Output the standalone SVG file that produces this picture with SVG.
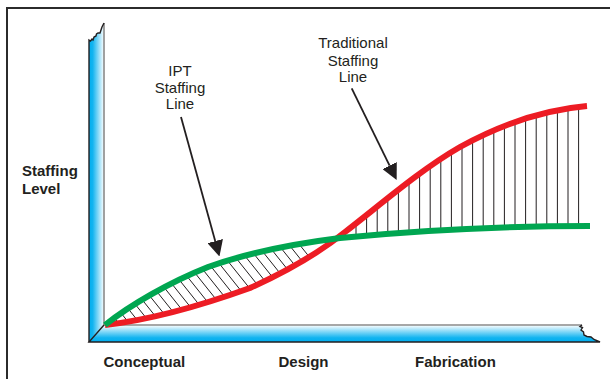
<svg xmlns="http://www.w3.org/2000/svg" width="610" height="379" viewBox="0 0 610 379">
<style>
.frame{fill:none;stroke:#2b2b2b;stroke-width:2}
.edge-dark{fill:none;stroke:#231F20;stroke-width:1.4}
.edge-gray{fill:none;stroke:#8a8a8a;stroke-width:1.6}
.hatch{fill:none;stroke:#231F20;stroke-width:1}
.curve{fill:none;stroke-width:6}
.lbl{font-family:"Liberation Sans",Arial,sans-serif;font-size:15px;fill:#231F20}
.bold{font-weight:bold}
.arrow{fill:none;stroke:#231F20;stroke-width:1.8}
</style>
<defs>
<linearGradient id="gv" x1="89" y1="0" x2="104" y2="0" gradientUnits="userSpaceOnUse">
<stop offset="0" stop-color="#00AEEF"/><stop offset="0.25" stop-color="#12b4f0"/><stop offset="1" stop-color="#ffffff"/>
</linearGradient>
<linearGradient id="gh" x1="0" y1="325" x2="0" y2="342" gradientUnits="userSpaceOnUse">
<stop offset="0" stop-color="#ffffff"/><stop offset="0.75" stop-color="#12b4f0"/><stop offset="1" stop-color="#00AEEF"/>
</linearGradient>
<clipPath id="belowGreen"><path d="M105,325 C130,305 170,282 208,267 C250,252 300,243 340,238 C420,230 500,226 590,226 L590,400 L105,400 Z"/></clipPath>
<clipPath id="aboveRed"><path d="M105,325 C150,320 200,306 250,288 C290,270 320,252 345,232 C380,205 420,170 460,147 C500,125 540,110 587,106 L587,0 L105,0 Z"/></clipPath>
<clipPath id="belowRed"><path d="M105,325 C150,320 200,306 250,288 C290,270 320,252 345,232 C380,205 420,170 460,147 C500,125 540,110 587,106 L587,400 L105,400 Z"/></clipPath>
<clipPath id="aboveGreen"><path d="M105,325 C130,305 170,282 208,267 C250,252 300,243 340,238 C420,230 500,226 590,226 L590,0 L105,0 Z"/></clipPath>
<marker id="head" viewBox="0 0 16 16" refX="0" refY="8" markerWidth="16" markerHeight="16" markerUnits="userSpaceOnUse" orient="auto">
<path d="M0,0 L16,8 L0,16 Z" fill="#231F20"/>
</marker>
</defs>

<g id="frame">
<path class="frame" d="M7,379 L7,8 L610,8"/>
</g>

<g id="axes">
<path d="M89,342 L89,42 L89,40 L90.5,41 L92,39 L93,40 L94,37 L96,36 L96.5,34 L98,33 L100,33 L101,30 L102,27 L103,25 L104,23 L104,325 Z" fill="url(#gv)"/>
<path d="M104,325 L582,325 L580,326.5 L582.5,327.5 L581,330 L583.5,332 L584,335 L587,336.5 L591,337 L594,339.5 L600,342 L89,342 Z" fill="url(#gh)"/>
<path class="edge-gray" d="M104,23 L104,325 L582,325"/>
<path class="edge-dark" d="M89,342 L89,42 L89,40 L90.5,41 L92,39 L93,40 L94,37 L96,36 L96.5,34 L98,33 L100,33 L101,30 L102,27 L103,25 L104,23"/>
<path class="edge-dark" d="M582,325 L580,326.5 L582.5,327.5 L581,330 L583.5,332 L584,335 L587,336.5 L591,337 L594,339.5 L600,342 L89,342 L104,325"/>
</g>

<g id="hatching">
<g clip-path="url(#belowGreen)"><g clip-path="url(#aboveRed)">
<path class="hatch" d="M20,200l120,150M30.6,200l120,150M41.2,200l120,150M51.8,200l120,150M62.4,200l120,150M73,200l120,150M83.6,200l120,150M94.2,200l120,150M104.8,200l120,150M115.4,200l120,150M126,200l120,150M136.6,200l120,150M147.2,200l120,150M157.8,200l120,150M168.4,200l120,150M179,200l120,150M189.6,200l120,150M200.2,200l120,150M210.8,200l120,150M221.4,200l120,150M232,200l120,150M242.6,200l120,150M253.2,200l120,150M263.8,200l120,150"/>
</g></g>
<g clip-path="url(#belowRed)"><g clip-path="url(#aboveGreen)">
<path class="hatch" d="M356,100V240M366.6,100V240M377.2,100V240M387.8,100V240M398.4,100V240M409,100V240M419.6,100V240M430.2,100V240M440.8,100V240M451.4,100V240M462,100V240M472.6,100V240M483.2,100V240M493.8,100V240M504.4,100V240M515,100V240M525.6,100V240M536.2,100V240M546.8,100V240M557.4,100V240M568,100V240M578.6,100V240"/>
</g></g>
</g>

<g id="traditional-line">
<path class="curve" stroke="#ED1C24" d="M105,325 C150,320 200,306 250,288 C290,270 320,252 345,232 C380,205 420,170 460,147 C500,125 540,110 587,106"/>
</g>
<g id="ipt-line">
<path class="curve" stroke="#00A651" d="M105,325 C130,305 170,282 208,267 C250,252 300,243 340,238 C420,230 500,226 590,226"/>
</g>

<g id="connectors">
<path class="arrow" d="M181,117 L215.2,241.1" marker-end="url(#head)"/>
<path class="arrow" d="M351.7,88.3 L389.6,165.6" marker-end="url(#head)"/>
</g>

<g id="ipt-label">
<text class="lbl" text-anchor="middle" x="180" y="75.5">IPT</text>
<text class="lbl" text-anchor="middle" x="180" y="92.5">Staffing</text>
<text class="lbl" text-anchor="middle" x="180" y="109">Line</text>
</g>
<g id="traditional-label">
<text class="lbl" text-anchor="middle" x="353" y="48">Traditional</text>
<text class="lbl" text-anchor="middle" x="353" y="65.5">Staffing</text>
<text class="lbl" text-anchor="middle" x="353" y="82">Line</text>
</g>
<g id="y-label">
<text class="lbl bold" x="22" y="176">Staffing</text>
<text class="lbl bold" x="22" y="193.5">Level</text>
</g>
<g id="x-labels">
<text class="lbl bold" x="103.5" y="367">Conceptual</text>
<text class="lbl bold" x="278.5" y="367">Design</text>
<text class="lbl bold" x="415" y="367">Fabrication</text>
</g>
</svg>
